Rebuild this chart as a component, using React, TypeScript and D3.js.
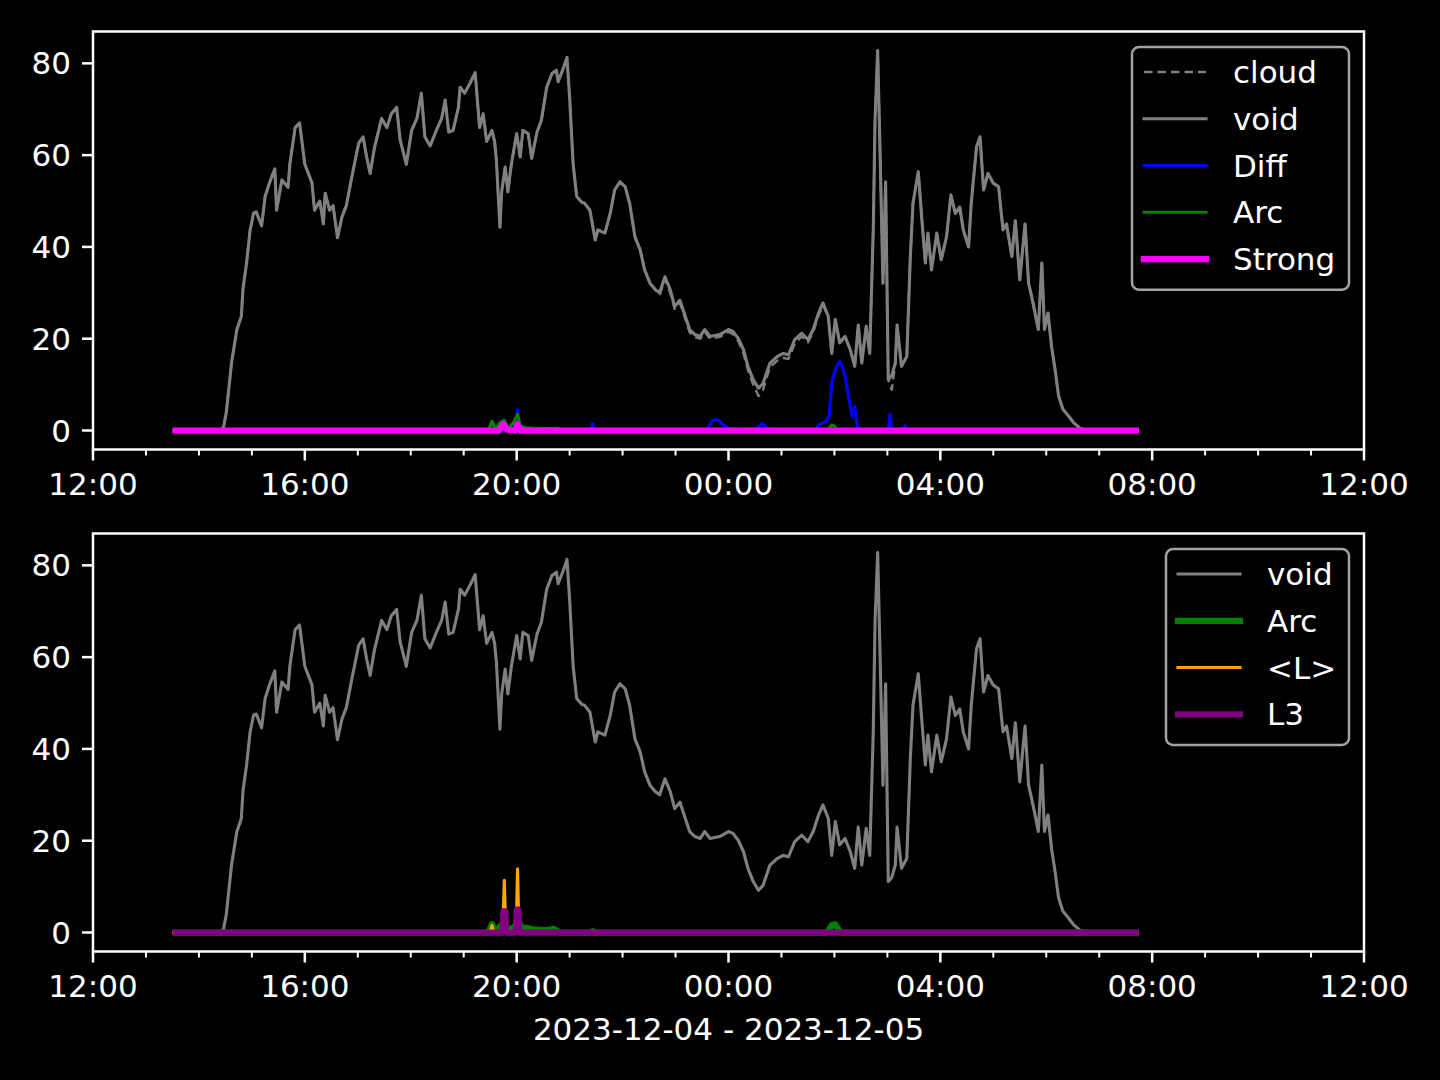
import * as d3 from 'd3';

// void / cloud share sample times (clock time, 13:30 on 12-04 through 07:45 on 12-05)
const sampleTimes = [
  '13:30', '14:00', '14:25', '14:28', '14:31', '14:37', '14:43', '14:48', '14:50', '14:54',
  '14:58', '15:02', '15:05', '15:11', '15:15', '15:20', '15:26', '15:28', '15:34', '15:41',
  '15:43', '15:49', '15:54', '16:00', '16:08', '16:11', '16:17', '16:21', '16:23', '16:28',
  '16:32', '16:37', '16:42', '16:47', '16:53', '17:01', '17:06', '17:10', '17:14', '17:19',
  '17:27', '17:33', '17:38', '17:44', '17:48', '17:55', '18:01', '18:07', '18:12', '18:16',
  '18:22', '18:29', '18:35', '18:39', '18:43', '18:48', '18:54', '18:56', '19:01', '19:07',
  '19:13', '19:18', '19:22', '19:26', '19:32', '19:35', '19:37', '19:41', '19:43', '19:47',
  '19:50', '19:54', '20:00', '20:04', '20:07', '20:13', '20:17', '20:23', '20:28', '20:34',
  '20:40', '20:45', '20:47', '20:53', '20:57', '21:00', '21:04', '21:08', '21:14', '21:17',
  '21:23', '21:29', '21:32', '21:40', '21:46', '21:51', '21:57', '22:03', '22:08', '22:14',
  '22:20', '22:25', '22:31', '22:37', '22:42', '22:48', '22:54', '22:59', '23:05', '23:11',
  '23:16', '23:22', '23:28', '23:33', '23:39', '23:50', '00:00', '00:05', '00:11', '00:17',
  '00:22', '00:28', '00:34', '00:39', '00:47', '00:55', '01:02', '01:08', '01:15', '01:23',
  '01:30', '01:36', '01:42', '01:47', '01:53', '01:57', '02:01', '02:06', '02:12', '02:18',
  '02:23', '02:27', '02:31', '02:36', '02:40', '02:44', '02:46', '02:49', '02:52', '02:55',
  '02:58', '03:01', '03:05', '03:09', '03:11', '03:16', '03:22', '03:26', '03:29', '03:35',
  '03:39', '03:43', '03:46', '03:50', '03:56', '04:01', '04:07', '04:12', '04:17', '04:22',
  '04:26', '04:32', '04:35', '04:41', '04:45', '04:49', '04:54', '05:00', '05:06', '05:11',
  '05:15', '05:21', '05:25', '05:30', '05:36', '05:40', '05:45', '05:51', '05:55', '05:58',
  '06:02', '06:06', '06:10', '06:14', '06:19', '06:25', '06:31', '06:38', '06:45', '07:45',
];

const voidValues = [
  0, 0, 0.2, 0.8, 3.9, 14.8, 22, 24.8, 31, 36.5,
  43.7, 47.4, 47.6, 44.6, 51, 54, 57, 48, 54.6, 53,
  58, 66, 67, 58, 54, 48, 50, 45, 51.7, 48,
  49, 42, 46.5, 49, 55, 62.6, 64, 59.6, 56, 61.7,
  68, 66, 69, 70.4, 63.3, 58, 65.4, 68, 73.5, 64,
  62, 65.4, 68, 72, 65, 65.4, 70.4, 74.8, 73.5, 75.6,
  78, 66, 69, 63, 65.4, 63, 59, 44.3, 52, 57.4,
  52, 58, 64.7, 59.6, 65.4, 64.7, 59.3, 65, 67.6, 74.8,
  77.8, 78.5, 76, 79, 81.3, 72.6, 58, 51, 49.7, 49.5,
  48, 41.5, 43.7, 43, 47.3, 52.4, 54.2, 53.1, 49.5, 42.2,
  39.3, 35, 32.1, 30.7, 30, 33.5, 30.7, 27, 28.4, 24.9,
  22, 20.9, 20.5, 22, 20.5, 20.9, 22, 21.6, 20.1, 17.6,
  14, 11.1, 9.2, 10.2, 14.7, 16.1, 16.8, 16.5, 19.8, 21.2,
  19.8, 22, 25.6, 27.8, 24.9, 16.8, 24.2, 19.1, 20.5, 17.6,
  14, 23, 14.7, 22.7, 16.8, 43.7, 67.6, 82.8, 58.2, 32.1,
  54.2, 11.1, 12, 14.7, 23, 14, 16.1, 37.9, 49.5, 56.4,
  46.2, 36.5, 43, 35, 43, 37.2, 42.2, 51.3, 47.3, 48.7,
  43.7, 40, 49.5, 61.8, 64, 52.4, 56, 53.9, 53.1, 43.7,
  45, 37.9, 45.7, 32.8, 45, 32.1, 27.8, 22, 36.5, 22,
  25.6, 18.3, 13.3, 7.5, 4.6, 3.2, 1.7, 0.5, 0, 0,
];

const cloudValues = [
  0, 0, 0.2, 0.8, 3.9, 14.8, 22, 24.8, 31, 36.5,
  43.7, 47.4, 47.6, 44.6, 51, 54, 57, 48, 54.6, 53,
  58, 66, 67, 58, 54, 48, 50, 45, 51.7, 48,
  49, 42, 46.5, 49, 55, 62.6, 64, 59.6, 56, 61.7,
  68, 66, 69, 70.4, 63.3, 58, 65.4, 68, 73.5, 64,
  62, 65.4, 68, 72, 65, 65.4, 70.4, 74.8, 73.5, 75.6,
  78, 66, 69, 63, 65.4, 63, 59, 44.3, 52, 57.4,
  52, 58, 64.7, 59.6, 65.4, 64.7, 59.3, 65, 67.6, 74.8,
  77.8, 78.5, 76, 79, 81.3, 72.6, 58, 51, 49.7, 49.5,
  48, 41.5, 43.7, 43, 47.3, 52.4, 54.2, 53.1, 49.5, 42.2,
  39.3, 35, 32.1, 30.7, 29.5, 33, 30, 26.5, 27.8, 24.3,
  21.4, 20.3, 20, 21.5, 20, 20.4, 21.5, 21, 19.5, 16.8,
  13.2, 10, 7.5, 8.8, 13.8, 15.2, 15.8, 15.6, 18.9, 20.5,
  19.2, 21.5, 25, 27.3, 24.9, 16.8, 24.2, 19.1, 20.5, 17.6,
  14, 23, 14.7, 22.7, 16.8, 43.7, 67.6, 82.8, 58.2, 32.1,
  54.2, 11.1, 8.9, 14.7, 23, 14, 16.1, 37.9, 49.5, 56.4,
  46.2, 36.5, 43, 35, 43, 37.2, 42.2, 51.3, 47.3, 48.7,
  43.7, 40, 49.5, 61.8, 64, 52.4, 56, 53.9, 53.1, 43.7,
  45, 37.9, 45.7, 32.8, 45, 32.1, 27.8, 22, 36.5, 22,
  25.6, 18.3, 13.3, 7.5, 4.6, 3.2, 1.7, 0.5, 0, 0,
];

const diffPoints: [string, number][] = [
  ['13:30', 0], ['19:40', 0], ['19:44', 0.5], ['19:58', 0.5], ['20:01', 4.5], ['20:03', 0.5],
  ['20:10', 0.3], ['20:47', 0.2], ['21:24', 0], ['21:26', 1.5], ['21:28', 0], ['23:35', 0],
  ['23:42', 2.2], ['23:48', 2.4], ['23:54', 1.2], ['00:00', 0.5], ['00:10', 0.3], ['00:32', 0.4],
  ['00:38', 1.5], ['00:44', 0.5], ['00:50', 0.2], ['00:55', 0], ['01:38', 0], ['01:42', 1.2],
  ['01:50', 2.0], ['01:54', 3.1], ['01:57', 10.4], ['02:01', 13.3], ['02:04', 14.4], ['02:06', 15],
  ['02:08', 14.5], ['02:12', 11.8], ['02:16', 7.5], ['02:20', 3], ['02:23', 5.3], ['02:26', 1],
  ['02:28', 0], ['03:01', 0], ['03:03', 3.5], ['03:05', 0], ['03:18', 0], ['03:20', 1],
  ['03:22', 0], ['07:45', 0],
];

const arcTopPoints: [string, number][] = [
  ['13:30', 0], ['19:28', 0], ['19:32', 2], ['19:36', 0.5], ['19:42', 1.8], ['19:46', 2.2],
  ['19:50', 0.5], ['19:56', 1.6], ['20:01', 3.5], ['20:04', 1], ['20:10', 0.6], ['20:20', 0.5],
  ['20:35', 0.4], ['20:47', 0.5], ['20:50', 0], ['01:52', 0], ['01:57', 1.2], ['02:00', 1],
  ['02:03', 0], ['07:45', 0],
];

const strongPoints: [string, number][] = [
  ['13:30', 0], ['19:40', 0], ['19:45', 1.4], ['19:49', 0.2], ['19:58', 0], ['20:01', 1.4],
  ['20:04', 0], ['07:45', 0],
];

const arcBottomPoints: [string, number][] = [
  ['13:30', 0], ['19:28', 0], ['19:32', 1.8], ['19:36', 0.3], ['19:42', 1.5], ['19:46', 2],
  ['19:50', 0.5], ['19:57', 1.2], ['20:03', 2], ['20:07', 0.8], ['20:12', 1], ['20:17', 0.7],
  ['20:25', 0.6], ['20:33', 0.5], ['20:42', 0.8], ['20:46', 0.3], ['20:50', 0], ['21:24', 0],
  ['21:26', 0.3], ['21:28', 0], ['01:52', 0], ['01:57', 1.6], ['02:01', 1.8], ['02:05', 0.5],
  ['02:08', 0], ['07:45', 0],
];

const lMeanPoints: [string, number][] = [
  ['13:30', 0], ['19:30', 0], ['19:32', 1.5], ['19:34', 0], ['19:44', 0], ['19:45', 5],
  ['19:46', 11.4], ['19:47', 5], ['19:48', 0.5], ['19:59', 0], ['20:00', 5], ['20:01', 13.9],
  ['20:02', 5], ['20:03', 0.5], ['20:05', 0], ['07:45', 0],
];

const l3Points: [string, number][] = [
  ['13:30', 0], ['19:44', 0], ['19:45', 4.6], ['19:47', 4.6], ['19:48', 0], ['19:59', 0],
  ['20:00', 5], ['20:02', 5], ['20:03', 0], ['07:45', 0],
];

const yTicks = [0, 20, 40, 60, 80];
const xLabel = '2023-12-04 - 2023-12-05';

const FONT = "'DejaVu Sans', sans-serif";
const LEFT = 93;
const RIGHT = 1364;
const X_START = new Date(2023, 11, 4, 12);
const X_END = new Date(2023, 11, 5, 12);

type Pt = { t: Date; v: number };
type Series = { label: string; color: string; width: number; dash?: string; points: Pt[] };

function toDate(s: string) {
  const [h, m] = s.split(':').map(Number);
  return new Date(2023, 11, h >= 12 ? 4 : 5, h, m);
}

const fromPairs = (pairs: [string, number][]): Pt[] =>
  pairs.map(([t, v]) => ({ t: toDate(t), v }));

const fromArrays = (times: string[], values: number[]): Pt[] =>
  times.map((t, i) => ({ t: toDate(t), v: values[i] }));

const voidSeries: Series = { label: 'void', color: '#808080', width: 3.1, points: fromArrays(sampleTimes, voidValues) };

const topSeries: Series[] = [
  { label: 'cloud', color: '#808080', width: 2.4, dash: '8.5,5', points: fromArrays(sampleTimes, cloudValues) },
  voidSeries,
  { label: 'Diff', color: '#0000ff', width: 3.1, points: fromPairs(diffPoints) },
  { label: 'Arc', color: '#008000', width: 3.1, points: fromPairs(arcTopPoints) },
  { label: 'Strong', color: '#ff00ff', width: 6.25, points: fromPairs(strongPoints) },
];

const bottomSeries: Series[] = [
  voidSeries,
  { label: 'Arc', color: '#008000', width: 6.25, points: fromPairs(arcBottomPoints) },
  { label: '<L>', color: '#ffa500', width: 3.1, points: fromPairs(lMeanPoints) },
  { label: 'L3', color: '#800080', width: 6.25, points: fromPairs(l3Points) },
];

interface PanelProps {
  top: number;
  bottom: number;
  series: Series[];
  legendX: number;
  legendY: number;
  legendW: number;
}

function Panel({ top, bottom, series, legendX, legendY, legendW }: PanelProps) {
  const x = d3.scaleTime().domain([X_START, X_END]).range([LEFT, RIGHT]);
  const all = series.flatMap((s) => s.points.map((p) => p.v));
  const lo = Math.min(0, d3.min(all) ?? 0);
  const hi = d3.max(all) ?? 1;
  const pad = (hi - lo) * 0.05;
  const y = d3.scaleLinear().domain([lo - pad, hi + pad]).range([bottom, top]);

  const line = d3
    .line<Pt>()
    .x((p) => x(p.t))
    .y((p) => y(p.v));

  const major = x.ticks(d3.timeHour.every(4)!);
  const minor = x.ticks(d3.timeHour.every(1)!).filter((d) => d.getHours() % 4 !== 0);
  const fmt = d3.timeFormat('%H:%M');

  const rowH = 46.75;
  const legendH = series.length * rowH + 9;

  return (
    <g>
      {/* Lines */}
      {series.map((s, i) => (
        <path
          key={i}
          d={line(s.points) ?? ''}
          fill="none"
          stroke={s.color}
          strokeWidth={s.width}
          strokeDasharray={s.dash}
          strokeLinejoin="round"
        />
      ))}

      {/* Spines */}
      <rect
        x={LEFT}
        y={top}
        width={RIGHT - LEFT}
        height={bottom - top}
        fill="none"
        stroke="#ffffff"
        strokeWidth={2.5}
      />

      {/* Y axis */}
      {yTicks.map((t) => (
        <g key={t}>
          <line x1={LEFT - 11} x2={LEFT} y1={y(t)} y2={y(t)} stroke="#fff" strokeWidth={2.5} />
          <text
            x={LEFT - 22}
            y={y(t) + 11}
            fill="#fff"
            fontSize={31}
            fontFamily={FONT}
            textAnchor="end"
          >
            {t}
          </text>
        </g>
      ))}

      {/* X axis */}
      {minor.map((d, i) => (
        <line key={'m' + i} x1={x(d)} x2={x(d)} y1={bottom} y2={bottom + 6} stroke="#fff" strokeWidth={2} />
      ))}
      {major.map((d, i) => (
        <g key={'M' + i}>
          <line x1={x(d)} x2={x(d)} y1={bottom} y2={bottom + 11} stroke="#fff" strokeWidth={2.5} />
          <text
            x={x(d)}
            y={bottom + 45.5}
            fill="#fff"
            fontSize={31}
            fontFamily={FONT}
            textAnchor="middle"
          >
            {fmt(d)}
          </text>
        </g>
      ))}

      {/* Legend */}
      <rect
        x={legendX}
        y={legendY}
        width={legendW}
        height={legendH}
        rx={7}
        fill="#000"
        fillOpacity={0.8}
        stroke="#a3a3a3"
        strokeWidth={2.5}
      />
      {series.map((s, i) => {
        const ry = legendY + 25 + i * rowH;
        return (
          <g key={'lg' + i}>
            <line
              x1={legendX + 12}
              x2={legendX + 74}
              y1={ry}
              y2={ry}
              stroke={s.color}
              strokeWidth={s.width}
              strokeDasharray={s.dash}
              strokeLinecap={s.dash ? 'butt' : 'square'}
            />
            <text x={legendX + 101} y={ry + 11} fill="#fff" fontSize={31} fontFamily={FONT}>
              {s.label}
            </text>
          </g>
        );
      })}
    </g>
  );
}

export default function App() {
  return (
    <svg
      width={1440}
      height={1080}
      style={{ position: 'absolute', left: 0, top: 0, display: 'block' }}
    >
      <rect x={0} y={0} width={1440} height={1080} fill="#000" />
      <Panel top={31.5} bottom={449.5} series={topSeries} legendX={1132} legendY={47} legendW={217} />
      <Panel top={533.5} bottom={951.5} series={bottomSeries} legendX={1166} legendY={549} legendW={183} />
      <text x={728.5} y={1040} fill="#fff" fontSize={31} fontFamily={FONT} textAnchor="middle">
        {xLabel}
      </text>
    </svg>
  );
}
